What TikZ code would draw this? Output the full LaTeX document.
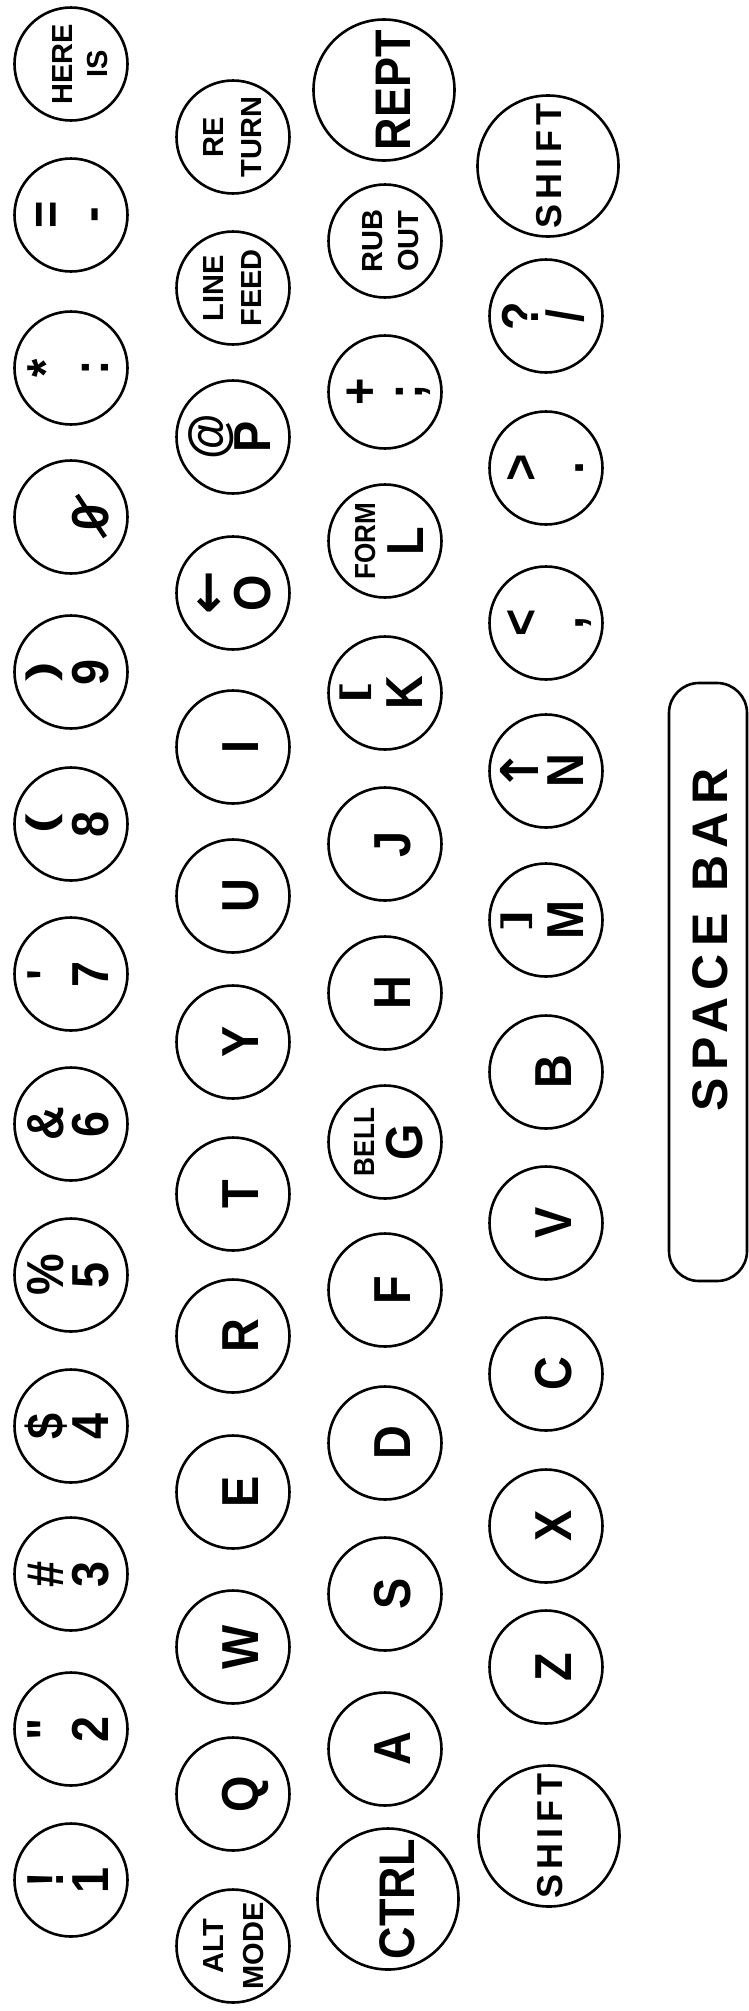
\documentclass[tikz,border=0pt]{standalone}
\usepackage{fontspec}
\setmainfont{Liberation Sans}
\newfontfamily\kf{Liberation Sans}[FakeStretch=0.9]
\newfontfamily\wf{Liberation Sans}[LetterSpace=15]
\newfontfamily\sy{DejaVu Sans}
\usetikzlibrary{calc}
\newcommand\two[4]{\vbox{\offinterlineskip\halign{\hfil##\hfil\cr\vrule height #1 depth 0pt width 0pt\smash{#3}\cr\vrule height #2 depth 0pt width 0pt\smash{#4}\cr}}}
\newcommand\brk[1]{\raisebox{13pt}{\scalebox{1.8}[1]{\fontsize{34pt}{34pt}\selectfont #1}}}
\newcommand\prn[1]{\raisebox{9pt}{\scalebox{1.25}[0.76]{#1}}}
\newcommand\sm{\fontsize{29pt}{29pt}\selectfont}
\tikzset{
  keycap/.style={circle, draw, line width=2.6pt, minimum size=113pt, inner sep=0pt, rotate=90,
    font=\kf\bfseries\fontsize{52pt}{52pt}\selectfont},
  bigcap/.style={keycap, minimum size=141pt},
  onechar/.style={text height=50pt, text depth=0pt},
  wordfont/.style={font=\bfseries\fontsize{29pt}{29pt}\selectfont},
  bigword/.style={font=\kf\bfseries\fontsize{50pt}{50pt}\selectfont, text height=53pt, text depth=0pt},
  shiftword/.style={font=\wf\bfseries\fontsize{36pt}{36pt}\selectfont, text height=26pt, text depth=0pt},
}
\begin{document}
\begin{tikzpicture}[x=1pt,y=1pt]
\useasboundingbox (0,0) rectangle (749,-2011);
% column 1: number row
\node[keycap,wordfont] (herei) at (71,-64) {\two{37pt}{35pt}{HERE}{IS}};
\node[keycap] (kminus) at (71,-215) {\two{29pt}{45pt}{=}{-}};
\node[keycap] (kcolon) at (71,-368) {\two{29pt}{45pt}{*}{:}};
\node[keycap] (kzero) at (71,-517) {\two{29pt}{45pt}{}{0}};
\draw[line width=4.5pt] ($(kzero.center)+(6,22)$) -- ($(kzero.center)+(34,-20)$);
\node[keycap] (knine) at (71,-672) {\two{29pt}{45pt}{\prn{)}}{9}};
\node[keycap] (keight) at (71,-824) {\two{29pt}{45pt}{\prn{(}}{8}};
\node[keycap] (kseven) at (71,-974) {\two{29pt}{45pt}{\textquotesingle}{7}};
\node[keycap] (ksix) at (71,-1124) {\two{29pt}{45pt}{\&}{6}};
\node[keycap] (kfive) at (71,-1275) {\two{29pt}{45pt}{\%}{5}};
\node[keycap] (kfour) at (71,-1426) {\two{29pt}{45pt}{\$}{4}};
\node[keycap] (kthree) at (71,-1574) {\two{29pt}{45pt}{\#}{3}};
\node[keycap] (ktwo) at (71,-1729) {\two{29pt}{45pt}{"}{2}};
\node[keycap] (kone) at (71,-1880) {\two{29pt}{45pt}{!}{1}};
% column 2
\node[keycap,wordfont] (kreturn) at (233,-137) {\two{18pt}{38pt}{RE}{TURN}};
\node[keycap,wordfont] (klinefeed) at (233,-288) {\two{18pt}{38pt}{LINE}{FEED}};
\node[keycap] (kp) at (233,-437) {\two{29pt}{45pt}{@}{P}};
\node[keycap] (ko) at (233,-593) {\two{29pt}{45pt}{{\sy\bfseries ←}}{O}};
\node[keycap,onechar] (ki) at (233,-747) {I};
\node[keycap,onechar] (ku) at (233,-896) {U};
\node[keycap,onechar] (ky) at (233,-1042) {Y};
\node[keycap,onechar] (kt) at (233,-1194) {T};
\node[keycap,onechar] (kr) at (233,-1336) {R};
\node[keycap,onechar] (ke) at (233,-1492) {E};
\node[keycap,onechar] (kw) at (233,-1647) {W};
\node[keycap,onechar] (kq) at (233,-1794) {Q};
\node[keycap,wordfont] (kaltmode) at (233,-1946) {\two{20pt}{40pt}{ALT}{MODE}};
% column 3
\node[bigcap,bigword] (krept) at (384,-90) {REPT};
\node[keycap,wordfont] (krubout) at (385,-241) {\two{30pt}{36pt}{RUB}{OUT}};
\node[keycap] (ksemi) at (385,-392) {\two{29pt}{45pt}{+}{;}};
\node[keycap] (kl) at (385,-541) {\two{28pt}{48pt}{\sm FORM}{L}};
\node[keycap] (kk) at (385,-693) {\two{29pt}{45pt}{\brk{[}}{K}};
\node[keycap,onechar] (kj) at (385,-844) {J};
\node[keycap,onechar] (kh) at (385,-993) {H};
\node[keycap] (kg) at (385,-1142) {\two{26pt}{48pt}{\sm BELL}{G}};
\node[keycap,onechar] (kf) at (385,-1290) {F};
\node[keycap,onechar] (kd) at (385,-1443) {D};
\node[keycap,onechar] (ks) at (385,-1594) {S};
\node[keycap,onechar] (ka) at (385,-1749) {A};
\node[bigcap,bigword] (kctrl) at (388,-1899) {CTRL};
% column 4
\node[bigcap,shiftword] (kshiftr) at (548,-166) {SHIFT};
\node[keycap] (kslash) at (546,-316) {\two{29pt}{45pt}{?}{/}};
\node[keycap] (kperiod) at (546,-468) {\two{29pt}{45pt}{>}{.}};
\node[keycap] (kcomma) at (546,-623) {\two{29pt}{45pt}{<}{,}};
\node[keycap] (kn) at (546,-771) {\two{29pt}{45pt}{{\sy\bfseries ↑}}{N}};
\node[keycap] (km) at (546,-920) {\two{29pt}{45pt}{\brk{]}}{M}};
\node[keycap,onechar] (kb) at (546,-1072) {B};
\node[keycap,onechar] (kv) at (546,-1223) {V};
\node[keycap,onechar] (kc) at (546,-1374) {C};
\node[keycap,onechar] (kx) at (546,-1526) {X};
\node[keycap,onechar] (kz) at (546,-1667) {Z};
\node[bigcap,shiftword] (kshiftl) at (549,-1836) {SHIFT};
% space bar
\node[draw, line width=2.6pt, rounded corners=30pt, minimum width=78pt, minimum height=598pt, inner sep=0pt] (spacebar) at (708,-982) {};
\node[rotate=90, font=\wf\bfseries\fontsize{50pt}{50pt}\selectfont, text height=36pt, text depth=0pt, inner sep=0pt] (spacelabel) at (709,-940) {SPACE BAR};
\end{tikzpicture}
\end{document}
